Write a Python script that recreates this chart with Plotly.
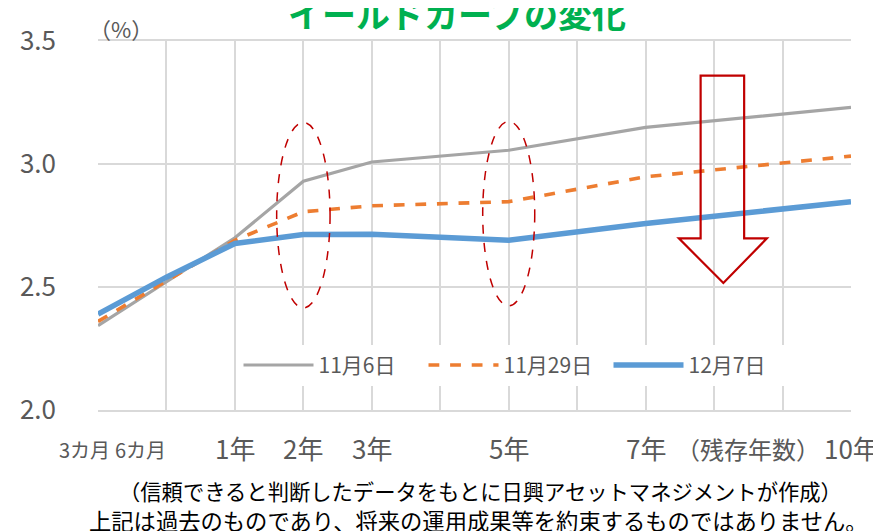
import plotly.graph_objects as go

categories = ["3カ月", "6カ月", "1年", "2年", "3年", "4年", "5年", "6年", "7年", "8年", "9年", "10年"]
series_names = ["11月6日", "11月29日", "12月7日"]
nov6 = [2.343, 2.520, 2.700, 2.930, 3.008, None, 3.056, None, 3.149, None, None, 3.230]
nov29 = [2.360, 2.525, 2.690, 2.806, 2.830, None, 2.847, None, 2.948, None, None, 3.032]
dec7 = [2.390, 2.540, 2.677, 2.713, 2.714, None, 2.690, None, 2.758, None, None, 2.847]
tick_labels = {"3カ月": "3カ月", "6カ月": "6カ月", "1年": "1年", "2年": "2年", "3年": "3年",
               "5年": "5年", "7年": "7年", "10年": "10年"}
y_ticks = [2.0, 2.5, 3.0, 3.5]
title_text = "イールドカーブの変化"
unit_text = "（%）"
axis_title = "（残存年数）"
note1 = "（信頼できると判断したデータをもとに日興アセットマネジメントが作成）"
note2 = "上記は過去のものであり、将来の運用成果等を約束するものではありません。"

FONT = "Noto Sans CJK JP"
GREY_TXT = "#595959"
OFF = 8  # page body margin

fig = go.Figure()
fig.add_trace(go.Scatter(x=categories, y=nov6, name=series_names[0], mode="lines",
                         connectgaps=True, line=dict(color="#A5A5A5", width=3.2)))
fig.add_trace(go.Scatter(x=categories, y=nov29, name=series_names[1], mode="lines",
                         connectgaps=True, line=dict(color="#ED7D31", width=3.6, dash="dash")))
fig.add_trace(go.Scatter(x=categories, y=dec7, name=series_names[2], mode="lines",
                         connectgaps=True, line=dict(color="#5B9BD5", width=5.5)))

W, H = 881 - OFF, 531 - OFF
L, T = 90 - OFF, 38 - OFF
R = W - (851 - OFF)
B = H - (410 - OFF)
pw, ph = W - L - R, H - T - B

def px(xr):
    return (xr - OFF - L) / pw

def py(yr):
    return (H - B - (yr - OFF)) / ph

annotations = []
shifts = {"3カ月": -14, "6カ月": -26, "10年": 0}
sizes = {"3カ月": 20, "6カ月": 20}
ys = {"3カ月": 450, "6カ月": 450}
for c, t in tick_labels.items():
    annotations.append(dict(x=c, xref="x", y=py(ys.get(c, 448)), yref="paper", text=t, showarrow=False,
                            xshift=shifts.get(c, 0), font=dict(family=FONT, size=sizes.get(c, 26), color=GREY_TXT),
                            xanchor="center", yanchor="middle"))
annotations.append(dict(x=px(747), xref="paper", y=py(449), yref="paper", text=axis_title, showarrow=False,
                        font=dict(family=FONT, size=24, color=GREY_TXT), xanchor="center", yanchor="middle"))
annotations.append(dict(x=px(113), xref="paper", y=py(25), yref="paper", text=unit_text, showarrow=False,
                        font=dict(family=FONT, size=22, color=GREY_TXT), xanchor="center", yanchor="middle"))
annotations.append(dict(x=px(453), xref="paper", y=py(10), yref="paper", text="<b>" + title_text + "</b>",
                        showarrow=False, font=dict(family=FONT, size=34, color="#00B050"),
                        xanchor="center", yanchor="middle"))
annotations.append(dict(x=px(477), xref="paper", y=py(491), yref="paper", text=note1, showarrow=False,
                        font=dict(family=FONT, size=21.3, color="#000000"), xanchor="center", yanchor="middle"))
annotations.append(dict(x=px(475), xref="paper", y=py(521), yref="paper", text=note2, showarrow=False,
                        font=dict(family=FONT, size=22.3, color="#000000"), xanchor="center", yanchor="middle"))

shapes = []
shapes.append(dict(type="circle", xref="x", yref="y", x0=2.61, x1=3.39, y0=2.415, y1=3.169,
                   line=dict(color="#C00000", width=1.5, dash="dash")))
shapes.append(dict(type="circle", xref="x", yref="y", x0=5.62, x1=6.38, y0=2.423, y1=3.173,
                   line=dict(color="#C00000", width=1.5, dash="dash")))
pts = [(699, 73), (743, 73), (743, 237), (766, 237), (722, 282), (677, 237), (699, 237)]
path = "M " + " L ".join(f"{px(a):.4f},{py(b):.4f}" for a, b in pts) + " Z"
shapes.append(dict(type="path", xref="paper", yref="paper", path=path,
                   line=dict(color="#C00000", width=2.2), fillcolor="rgba(0,0,0,0)"))

fig.update_layout(
    width=W, height=H,
    margin=dict(l=L, r=R, t=T, b=B),
    paper_bgcolor="white", plot_bgcolor="white",
    font=dict(family=FONT, color=GREY_TXT),
    showlegend=True,
    legend=dict(orientation="h", x=px(232), y=py(365), xanchor="left", yanchor="middle",
                bgcolor="white", font=dict(family=FONT, size=21, color=GREY_TXT),
                itemwidth=70, entrywidth=100, tracegroupgap=0),
    annotations=annotations,
    shapes=shapes,
)
fig.update_xaxes(type="category", categoryorder="array", categoryarray=categories,
                 range=[0, len(categories) - 1], showgrid=True, gridcolor="#D9D9D9", gridwidth=1.5,
                 showticklabels=False, showline=True, linecolor="#D9D9D9", linewidth=1.5, mirror=True,
                 zeroline=False, fixedrange=True)
fig.update_yaxes(range=[2.0, 3.5], tickvals=y_ticks, tickformat=".1f", showgrid=True,
                 gridcolor="#D9D9D9", gridwidth=1.5, zeroline=False, ticks="",
                 ticklabelstandoff=41, tickfont=dict(family=FONT, size=26, color=GREY_TXT),
                 showline=False, fixedrange=True)

fig.write_html("out.html")
